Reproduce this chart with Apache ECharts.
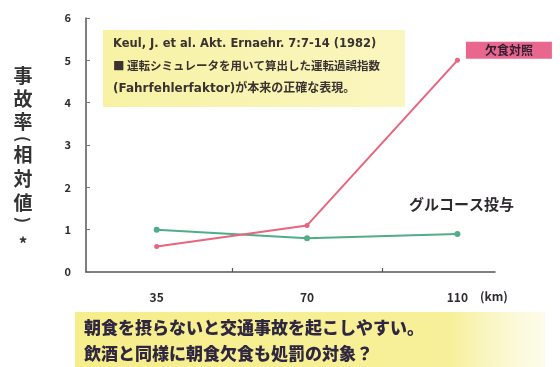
<!DOCTYPE html>
<html>
<head>
<meta charset="utf-8">
<script src="https://cdn.jsdelivr.net/npm/echarts@6/dist/echarts.min.js"></script>
<style>
  html, body { margin: 0; padding: 0; background: #ffffff; }
  #chart { width: 560px; height: 367px; }
</style>
</head>
<body>
<div id="chart"></div>
<script>
// Driving distance (km) and relative accident rate
const distances = ['35', '70', '110'];
const skippedBreakfast = [0.6, 1.1, 5.0];   // 欠食対照
const glucoseGiven = [1.0, 0.8, 0.9];       // グルコース投与
const yTicks = [0, 1, 2, 3, 4, 5, 6];

const FONT = '"Noto Sans CJK JP", "Noto Sans", sans-serif';
const NOTE_FONT = '"DejaVu Sans", "Noto Sans CJK JP", sans-serif';
const TEXT = '#2e2a30';
const lastIndex = distances.length - 1;

// points as [category index, value]; the last point carries the series name tag
function toPoints(vals, tagLabel) {
  return vals.map((v, i) => (i === lastIndex ? { value: [i, v], label: tagLabel } : [i, v]));
}

const redTag = {
  show: true,
  formatter: '欠食対照',
  position: 'right',
  distance: 6,
  offset: [0, -10],
  backgroundColor: '#e9668f',
  padding: [3, 19, 2, 19],
  color: '#2f2030',
  fontFamily: FONT,
  fontWeight: 'bold',
  fontSize: 12
};
const greenTag = {
  show: true,
  formatter: 'グルコース投与',
  position: 'top',
  distance: 19,
  offset: [4, 0],
  color: TEXT,
  fontFamily: FONT,
  fontWeight: 'bold',
  fontSize: 15
};

// vertical axis title, one glyph per entry with its centre height
const titleChars = [
  ['事', 76], ['故', 99], ['率', 122], ['(', 139, true], ['相', 155],
  ['対', 179], ['値', 203], [')', 220, true], ['*', 244]
];
const titleGraphics = titleChars.map(([ch, cy, rot]) => ({
  type: 'text',
  x: 23, y: cy,
  rotation: rot ? -Math.PI / 2 : 0,
  style: {
    text: ch,
    fill: '#333',
    font: (ch === '*' ? 'bold 17px ' : rot ? 'bold 16px ' : 'bold 19px ') + FONT,
    align: 'center',
    verticalAlign: 'middle'
  }
}));

const chart = echarts.init(document.getElementById('chart'), null, { renderer: 'canvas' });

chart.setOption({
  backgroundColor: '#ffffff',
  animation: false,
  grid: { left: 86, right: 65, top: 18, bottom: 95 },
  xAxis: {
    type: 'value',
    min: -0.47,
    max: 2.25,
    splitLine: { show: false },
    axisLine: { show: true, onZero: false, lineStyle: { color: '#555', width: 1.5 } },
    axisTick: {
      show: true, inside: true, length: 4,
      customValues: [0.5, 1.5],
      lineStyle: { color: '#555', width: 1.2 }
    },
    axisLabel: {
      customValues: distances.map((d, i) => i),
      formatter: v => distances[Math.round(v)] ?? '',
      margin: 19,
      color: TEXT,
      fontFamily: FONT,
      fontWeight: 'bold',
      fontSize: 12
    }
  },
  yAxis: {
    type: 'value',
    min: yTicks[0],
    max: yTicks[yTicks.length - 1],
    interval: 1,
    splitLine: { show: false },
    axisLine: { show: true, onZero: false, lineStyle: { color: '#555', width: 1.5 } },
    axisTick: { show: true, inside: true, length: 4, lineStyle: { color: '#777' } },
    axisLabel: {
      margin: 15,
      color: TEXT,
      fontFamily: FONT,
      fontWeight: 'bold',
      fontSize: 11
    }
  },
  series: [
    {
      name: '欠食対照',
      type: 'line',
      data: toPoints(skippedBreakfast, redTag),
      symbol: 'circle',
      symbolSize: 5,
      lineStyle: { color: '#e8657e', width: 2 },
      itemStyle: { color: '#e8657e' },
      z: 3
    },
    {
      name: 'グルコース投与',
      type: 'line',
      data: toPoints(glucoseGiven, greenTag),
      symbol: 'circle',
      symbolSize: 6,
      lineStyle: { color: '#4fae88', width: 2 },
      itemStyle: { color: '#4fae88' },
      z: 2
    }
  ],
  graphic: titleGraphics.concat([
    // source note box
    {
      type: 'rect',
      shape: { x: 103, y: 30, width: 302, height: 77 },
      style: {
        fill: new echarts.graphic.LinearGradient(0, 0, 1, 0, [
          { offset: 0, color: '#f7f2a4' },
          { offset: 1, color: '#faf6bf' }
        ])
      },
      z: 1
    },
    {
      type: 'text',
      x: 113, y: 38,
      style: {
        text: 'Keul, J. et al. Akt. Ernaehr. 7:7-14 (1982)',
        fill: '#3a3230',
        font: 'bold 11.5px ' + NOTE_FONT
      },
      z: 5
    },
    {
      type: 'text',
      x: 113, y: 60,
      style: {
        text: '■ 運転シミュレータを用いて算出した運転過誤指数',
        fill: '#3a3230',
        font: 'bold 11.5px ' + FONT
      },
      z: 5
    },
    {
      type: 'text',
      x: 113, y: 83,
      style: {
        text: '(Fahrfehlerfaktor)が本来の正確な表現。',
        fill: '#3a3230',
        font: 'bold 12px ' + NOTE_FONT
      },
      z: 5
    },
    // unit label for the distance axis
    {
      type: 'text',
      x: 480, y: 290,
      style: {
        text: '(km)',
        fill: TEXT,
        font: 'bold 12px ' + FONT
      }
    },
    // bottom caption box
    {
      type: 'rect',
      shape: { x: 75, y: 312, width: 470, height: 55 },
      style: {
        fill: new echarts.graphic.LinearGradient(0, 0, 1, 0, [
          { offset: 0, color: '#f6ee8a' },
          { offset: 0.8, color: '#f7f09a' },
          { offset: 1, color: 'rgba(250,247,205,0.4)' }
        ])
      },
      z: 1
    },
    {
      type: 'text',
      x: 84, y: 315,
      style: {
        text: '朝食を摂らないと交通事故を起こしやすい。\n飲酒と同様に朝食欠食も処罰の対象？',
        fill: '#2f2640',
        font: '900 17px ' + FONT,
        lineHeight: 26
      },
      z: 5
    }
  ])
});
</script>
</body>
</html>
